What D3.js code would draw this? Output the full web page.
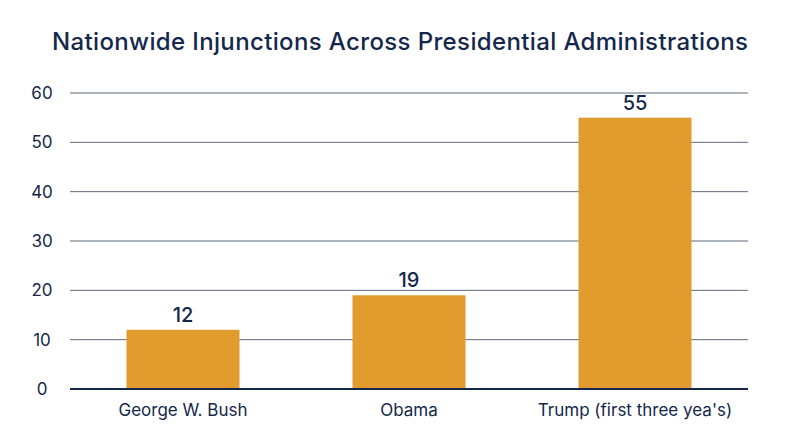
<!DOCTYPE html>
<html><head><meta charset="utf-8">
<script src="https://cdn.jsdelivr.net/npm/d3@7"></script>
<style>body{margin:0;background:#fff}text{font-family:Inter,"Open Sans",sans-serif;fill:#15284b}</style>
</head><body>
<svg id="chart" width="800" height="447"></svg>
<script>
const categories = ["George W. Bush", "Obama", "Trump (first three yea's)"];
const values = [12, 19, 55];
const ticks = [0, 10, 20, 30, 40, 50, 60];

const svg = d3.select('#chart');
const x = d3.scaleBand().domain(categories).range([70, 748]).paddingInner(0.5).paddingOuter(0.25);
const y = d3.scaleLinear().domain([0, 60]).range([389, 93]);

svg.append('text').attr('x', 400).attr('y', 50).attr('text-anchor', 'middle')
    .attr('font-size', 24).attr('font-weight', 500).attr('textLength', 696)
    .text('Nationwide Injunctions Across Presidential Administrations');

// grid
svg.selectAll('.grid').data(ticks.filter(d => d > 0)).enter().append('line')
    .attr('x1', 70).attr('x2', 748).attr('y1', d => y(d)).attr('y2', d => y(d))
    .attr('stroke', '#5f6a7e').attr('stroke-width', 1);
svg.selectAll('.tick').data(ticks).enter().append('text')
    .attr('x', 42).attr('y', d => y(d) + 6).attr('text-anchor', 'middle')
    .attr('font-size', 17).text(d => d);

svg.selectAll('.bar').data(values).enter().append('rect')
    .attr('x', (d, i) => x(categories[i])).attr('width', x.bandwidth())
    .attr('y', d => y(d)).attr('height', d => y(0) - y(d)).attr('fill', '#e29c2e');
svg.selectAll('.val').data(values).enter().append('text')
    .attr('x', (d, i) => x(categories[i]) + x.bandwidth() / 2).attr('y', d => y(d) - 8)
    .attr('text-anchor', 'middle').attr('font-size', 20).attr('font-weight', 500).text(d => d);

svg.append('line').attr('x1', 70).attr('x2', 748).attr('y1', y(0)).attr('y2', y(0))
    .attr('stroke', '#15284b').attr('stroke-width', 2);
svg.selectAll('.cat').data(categories).enter().append('text')
    .attr('x', d => x(d) + x.bandwidth() / 2).attr('y', 416).attr('text-anchor', 'middle')
    .attr('font-size', 17).text(d => d);
</script></body></html>
